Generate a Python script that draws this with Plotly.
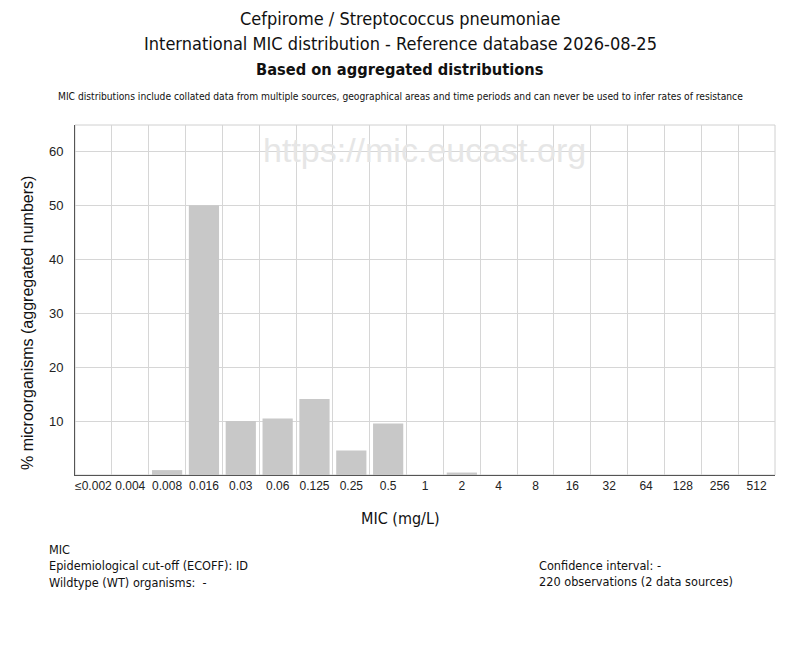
import plotly.graph_objects as go

categories = ["≤0.002", "0.004", "0.008", "0.016", "0.03", "0.06", "0.125", "0.25", "0.5",
              "1", "2", "4", "8", "16", "32", "64", "128", "256", "512"]
counts = [0, 0, 2, 110, 22, 23, 31, 10, 21, 0, 1, 0, 0, 0, 0, 0, 0, 0, 0]
total = 220
percent = [c / total * 100 for c in counts]
y_ticks = [10, 20, 30, 40, 50, 60]

title_lines = ["Cefpirome / Streptococcus pneumoniae",
               "International MIC distribution - Reference database 2026-08-25"]
title_bold = "Based on aggregated distributions"
subtitle = ("MIC distributions include collated data from multiple sources, geographical areas "
            "and time periods and can never be used to infer rates of resistance")
footer_left = ["MIC", "Epidemiological cut-off (ECOFF): ID", "Wildtype (WT) organisms:  -"]
footer_right = ["Confidence interval: -", "220 observations (2 data sources)"]

OFF = 8  # page body offset
W, H = 800, 650
# target plot area in screenshot pixels
X0, X1, Y0, Y1 = 75, 775, 125, 475
L, T = X0 - OFF, Y0 - OFF
R = W - (X1 - OFF)
B = H - (Y1 - OFF)
PW, PH = X1 - X0, Y1 - Y0

def px_x(x):
    return (x - X0) / PW

def px_y(y):
    return (Y1 - y) / PH

narrow = "DejaVu Sans Condensed, Liberation Sans Narrow, Liberation Sans, Arial"
reg = "Liberation Sans, Arial"

fig = go.Figure()
fig.add_trace(go.Bar(x=categories, y=percent, marker=dict(color="#c8c8c8", line=dict(width=0)),
                     hoverinfo="x+y"))

ann = []
for i, t in enumerate(title_lines):
    ann.append(dict(text=t, x=px_x(400), y=px_y(18 + 26 * i), font=dict(size=18, family=narrow, color="#111")))
ann.append(dict(text="<b>" + title_bold + "</b>", x=px_x(400), y=px_y(69), font=dict(size=16.3, family=narrow, color="#111")))
ann.append(dict(text=subtitle, x=px_x(400), y=px_y(97), font=dict(size=10.2, family=narrow, color="#111")))
ann.append(dict(text="https://mic.eucast.org", x=px_x(424), y=px_y(150), font=dict(size=34, family=reg, color="#e6e6e6")))
ann.append(dict(text="MIC (mg/L)", x=px_x(400), y=px_y(518), font=dict(size=16, family=narrow, color="#111")))
ann.append(dict(text="% microorganisms (aggregated numbers)", x=px_x(27), y=px_y(323), textangle=-90,
                font=dict(size=16, family=reg, color="#111")))
ann.append(dict(text="<br>".join(footer_left), x=px_x(48), y=px_y(566), xanchor="left", align="left",
                borderpad=0, font=dict(size=12.6, family=narrow, color="#111")))
ann.append(dict(text="<br>".join(footer_right), x=px_x(538), y=px_y(573), xanchor="left", align="left",
                borderpad=0, font=dict(size=12.6, family=narrow, color="#111")))

for a in ann:
    a.setdefault("xanchor", "center")
    a.update(xref="paper", yref="paper", yanchor="middle", showarrow=False)

fig.update_layout(
    width=W, height=H,
    margin=dict(l=L, r=R, t=T, b=B, autoexpand=False),
    paper_bgcolor="white", plot_bgcolor="white",
    bargap=0.18,
    showlegend=False,
    annotations=ann,
    shapes=[dict(type="rect", xref="paper", yref="paper", x0=0, x1=1, y0=0, y1=1,
                 line=dict(color="#d0d0d0", width=1), layer="below")],
    xaxis=dict(type="category", tickson="boundaries", showgrid=True, gridcolor="#d6d6d6", gridwidth=1,
               showline=True, linecolor="#555", linewidth=1, ticks="", tickangle=0,
               tickfont=dict(size=12, family=reg, color="#222"),
               range=[-0.5, len(categories) - 0.5], fixedrange=True),
    yaxis=dict(range=[0, 64.9], tickvals=y_ticks, showgrid=True, gridcolor="#d6d6d6", gridwidth=1,
               showline=True, linecolor="#555", linewidth=1, ticks="", ticklabelstandoff=8,
               tickfont=dict(size=13, family=reg, color="#222"), zeroline=False, fixedrange=True),
)

fig.write_html("out.html")
